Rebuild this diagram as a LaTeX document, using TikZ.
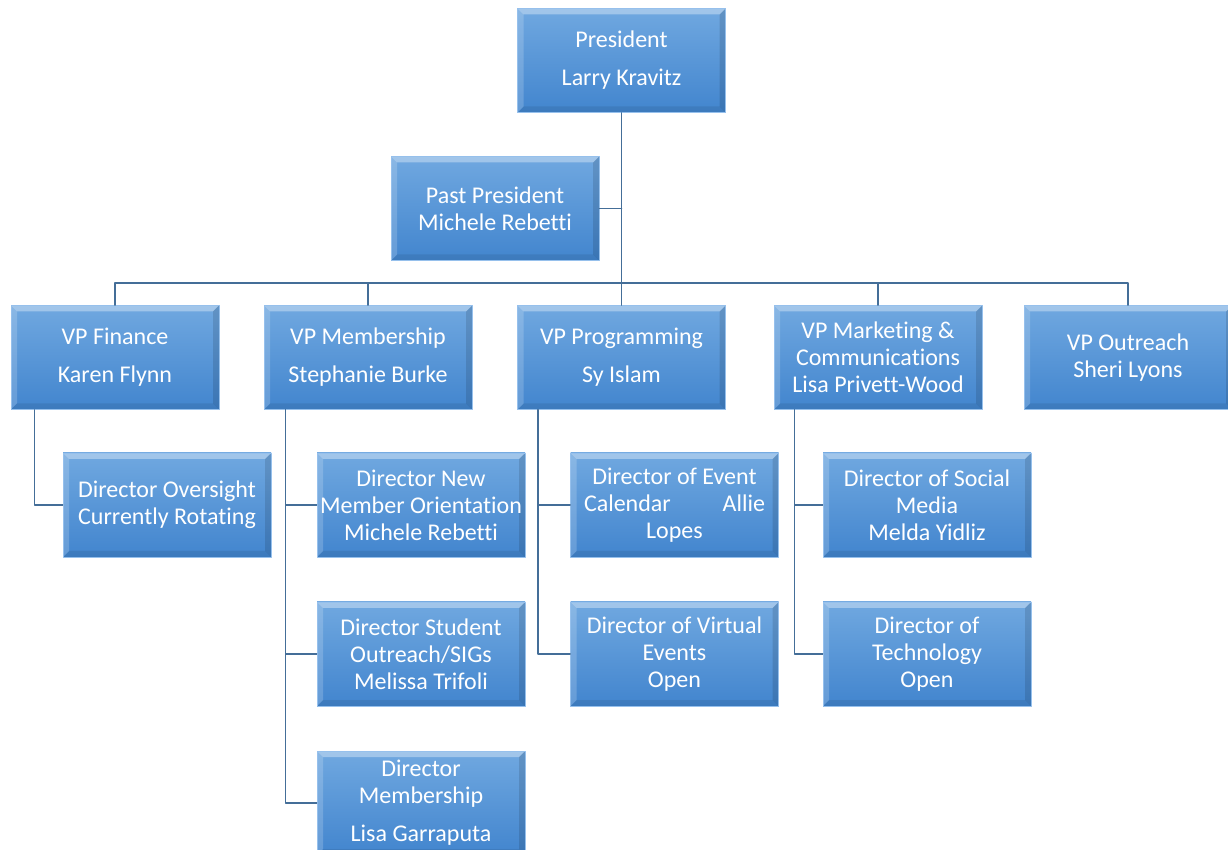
\documentclass[tikz,border=0pt]{standalone}
\usepackage{fontspec}
\setmainfont{Carlito}[Ligatures={NoCommon}]
\definecolor{boxtop}{RGB}{112,168,224}
\definecolor{boxbot}{RGB}{66,133,206}
\definecolor{boxedge}{RGB}{150,192,236}
\definecolor{linkblue}{RGB}{68,110,152}
\tikzset{
  box/.style={rectangle, minimum width=104pt, minimum height=52pt, inner sep=0pt,
    align=center, text=white, top color=boxtop, bottom color=boxbot,
    draw=boxedge, line width=0.4pt, font=\fontsize{12}{13.5}\selectfont,
    path picture={
      \fill[white, opacity=0.35] (path picture bounding box.north west) -- (path picture bounding box.north east)
        -- ([xshift=-3pt,yshift=-3pt]path picture bounding box.north east) -- ([xshift=3pt,yshift=-3pt]path picture bounding box.north west) -- cycle;
      \fill[white, opacity=0.18] (path picture bounding box.north west) -- (path picture bounding box.south west)
        -- ([xshift=3pt,yshift=3pt]path picture bounding box.south west) -- ([xshift=3pt,yshift=-3pt]path picture bounding box.north west) -- cycle;
      \fill[black, opacity=0.12] (path picture bounding box.north east) -- (path picture bounding box.south east)
        -- ([xshift=-3pt,yshift=3pt]path picture bounding box.south east) -- ([xshift=-3pt,yshift=-3pt]path picture bounding box.north east) -- cycle;
      \fill[black, opacity=0.08] (path picture bounding box.south west) -- (path picture bounding box.south east)
        -- ([xshift=-3pt,yshift=3pt]path picture bounding box.south east) -- ([xshift=3pt,yshift=3pt]path picture bounding box.south west) -- cycle;
    }},
  link/.style={draw=linkblue, line width=0.8pt}
}
\begin{document}
\begin{tikzpicture}[x=0.5pt, y=-0.5pt, line join=round, line cap=round]
  \def\rowvp{357.5}\def\rowa{505}\def\rowb{654}\def\rowc{803}
  \useasboundingbox (0,0) rectangle (1228,850);
  \clip (0,0) rectangle (1228,850);
  \coordinate (bus) at (621.5,283);
  % boxes
  \node[box] (pres) at (621.5,60.5) {President\\[5.5pt]Larry Kravitz};
  \node[box] (past) at (495,208.5) {Past President\\Michele Rebetti};
  \node[box] (fin) at (115,\rowvp) {VP Finance\\[5.5pt]Karen Flynn};
  \node[box] (mem) at (368,\rowvp) {VP Membership\\[5.5pt]Stephanie Burke};
  \node[box] (prog) at (621.5,\rowvp) {VP Programming\\[5.5pt]Sy Islam};
  \node[box] (mkt) at (878,\rowvp) {VP Marketing \&\\Communications\\Lisa Privett-Wood};
  \node[box] (out) at (1128,\rowvp) {VP Outreach\\Sheri Lyons};
  \node[box] (ovs) at (167,\rowa) {Director Oversight\\Currently Rotating};
  \node[box] (nmo) at (421,\rowa) {Director New\\Member Orientation\\Michele Rebetti};
  \node[box] (evt) at (674.5,\rowa) {Director of Event\\\makebox[90.5pt]{Calendar\hfill Allie}\\Lopes};
  \node[box] (soc) at (927,\rowa) {Director of Social\\Media\\Melda Yidliz};
  \node[box] (stu) at (421,\rowb) {Director Student\\Outreach/SIGs\\Melissa Trifoli};
  \node[box] (vir) at (674.5,\rowb) {Director of Virtual\\Events\\Open};
  \node[box] (tec) at (927,\rowb) {Director of\\Technology\\Open};
  \node[box] (dmem) at (421,\rowc) {Director\\Membership\\[5.5pt]Lisa Garraputa};
  % connectors
  \draw[link] (pres) -- (bus);
  \draw[link] (past.east) -- (past.east -| bus);
  \foreach \v in {fin,mem,prog,mkt,out}
    \draw[link] (\v.north) |- (bus);
  \draw[link] ([xshift=12pt]fin.south west) |- (ovs.west);
  \foreach \d in {nmo,stu,dmem}
    \draw[link] ([xshift=11pt]mem.south west) |- (\d.west);
  \foreach \d in {evt,vir}
    \draw[link] ([xshift=10.5pt]prog.south west) |- (\d.west);
  \foreach \d in {soc,tec}
    \draw[link] ([xshift=10.5pt]mkt.south west) |- (\d.west);
\end{tikzpicture}
\end{document}
